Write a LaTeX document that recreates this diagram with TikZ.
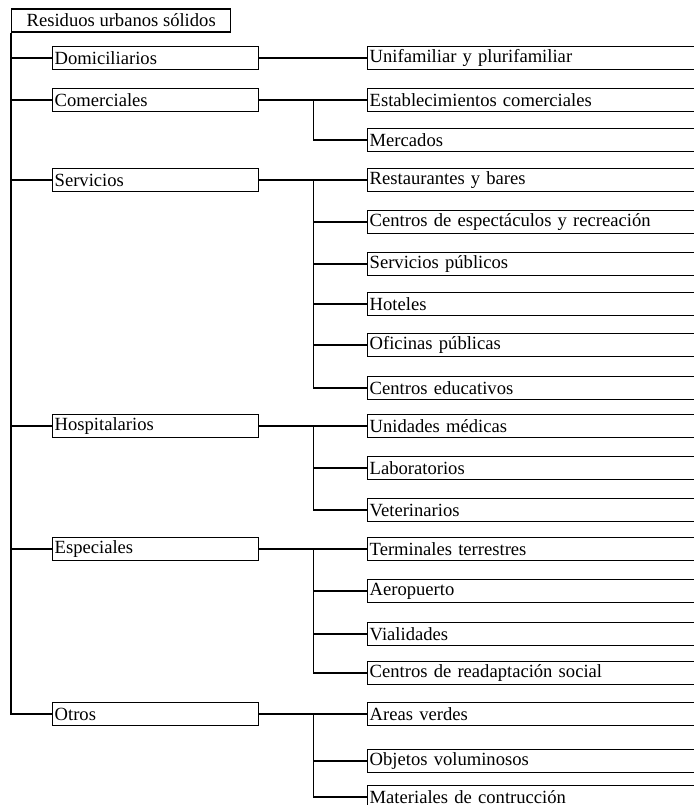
\documentclass[tikz,border=0pt]{standalone}
\usepackage{fontspec}
\setmainfont{Liberation Serif}

\begin{document}
\begin{tikzpicture}[
  x=0.5pt,y=-0.5pt,
  every node/.style={font=\fontsize{9.3}{11}\selectfont},
  rootbox/.style={draw,line width=0.7pt,anchor=west,minimum width=109.5pt,minimum height=11.5pt,inner sep=0pt},
  catbox/.style={draw,line width=0.7pt,anchor=west,text width=101pt,inner xsep=1pt,inner ysep=0pt,align=left,minimum height=11.5pt},
  subbox/.style={catbox,text width=164.5pt},
  link/.style={line width=0.7pt}
]
  \useasboundingbox (0,0) rectangle (694,805);

  \node[rootbox] (rso) at (11,20.5) {Residuos urbanos sólidos};

  \node[catbox] (domic) at (52,58) {Domiciliarios};
  \node[catbox] (comer) at (52,100) {Comerciales};
  \node[catbox] (servi) at (52,180) {Servicios};
  \node[catbox] (hospi) at (52,426) {Hospitalarios};
  \node[catbox] (espec) at (52,549) {Especiales};
  \node[catbox] (otros) at (52,714) {Otros};

  \node[subbox] (unifa) at (367,58) {Unifamiliar y plurifamiliar};
  \node[subbox] (estab) at (367,100) {Establecimientos comerciales};
  \node[subbox] (merca) at (367,140) {Mercados};
  \node[subbox] (resta) at (367,180) {Restaurantes y bares};
  \node[subbox] (cespe) at (367,222) {Centros de espectáculos y recreación};
  \node[subbox] (spubl) at (367,264) {Servicios públicos};
  \node[subbox] (hotel) at (367,304) {Hoteles};
  \node[subbox] (ofici) at (367,345) {Oficinas públicas};
  \node[subbox] (cedu) at (367,388) {Centros educativos};
  \node[subbox] (unime) at (367,426) {Unidades médicas};
  \node[subbox] (labor) at (367,468) {Laboratorios};
  \node[subbox] (veter) at (367,510) {Veterinarios};
  \node[subbox] (termi) at (367,549) {Terminales terrestres};
  \node[subbox] (aerop) at (367,591) {Aeropuerto};
  \node[subbox] (viali) at (367,634) {Vialidades};
  \node[subbox] (cread) at (367,673) {Centros de readaptación social};
  \node[subbox] (avert) at (367,714) {Areas verdes};
  \node[subbox] (objvo) at (367,761) {Objetos voluminosos};
  \node[subbox] (mater) at (367,797) {Materiales de contrucción};

  % tronco principal
  \draw[link] (rso.south west) |- (domic.west);
  \draw[link] (rso.south west) |- (comer.west);
  \draw[link] (rso.south west) |- (servi.west);
  \draw[link] (rso.south west) |- (hospi.west);
  \draw[link] (rso.south west) |- (espec.west);
  \draw[link] (rso.south west) |- (otros.west);

  % ramas
  \draw[link] (domic.east) -- (unifa.west);
  \draw[link] (comer.east) -- ++(54,0) |- (estab.west);
  \draw[link] (comer.east) -- ++(54,0) |- (merca.west);
  \draw[link] (servi.east) -- ++(54,0) |- (resta.west);
  \draw[link] (servi.east) -- ++(54,0) |- (cespe.west);
  \draw[link] (servi.east) -- ++(54,0) |- (spubl.west);
  \draw[link] (servi.east) -- ++(54,0) |- (hotel.west);
  \draw[link] (servi.east) -- ++(54,0) |- (ofici.west);
  \draw[link] (servi.east) -- ++(54,0) |- (cedu.west);
  \draw[link] (hospi.east) -- ++(54,0) |- (unime.west);
  \draw[link] (hospi.east) -- ++(54,0) |- (labor.west);
  \draw[link] (hospi.east) -- ++(54,0) |- (veter.west);
  \draw[link] (espec.east) -- ++(54,0) |- (termi.west);
  \draw[link] (espec.east) -- ++(54,0) |- (aerop.west);
  \draw[link] (espec.east) -- ++(54,0) |- (viali.west);
  \draw[link] (espec.east) -- ++(54,0) |- (cread.west);
  \draw[link] (otros.east) -- ++(54,0) |- (avert.west);
  \draw[link] (otros.east) -- ++(54,0) |- (objvo.west);
  \draw[link] (otros.east) -- ++(54,0) |- (mater.west);
\end{tikzpicture}
\end{document}
